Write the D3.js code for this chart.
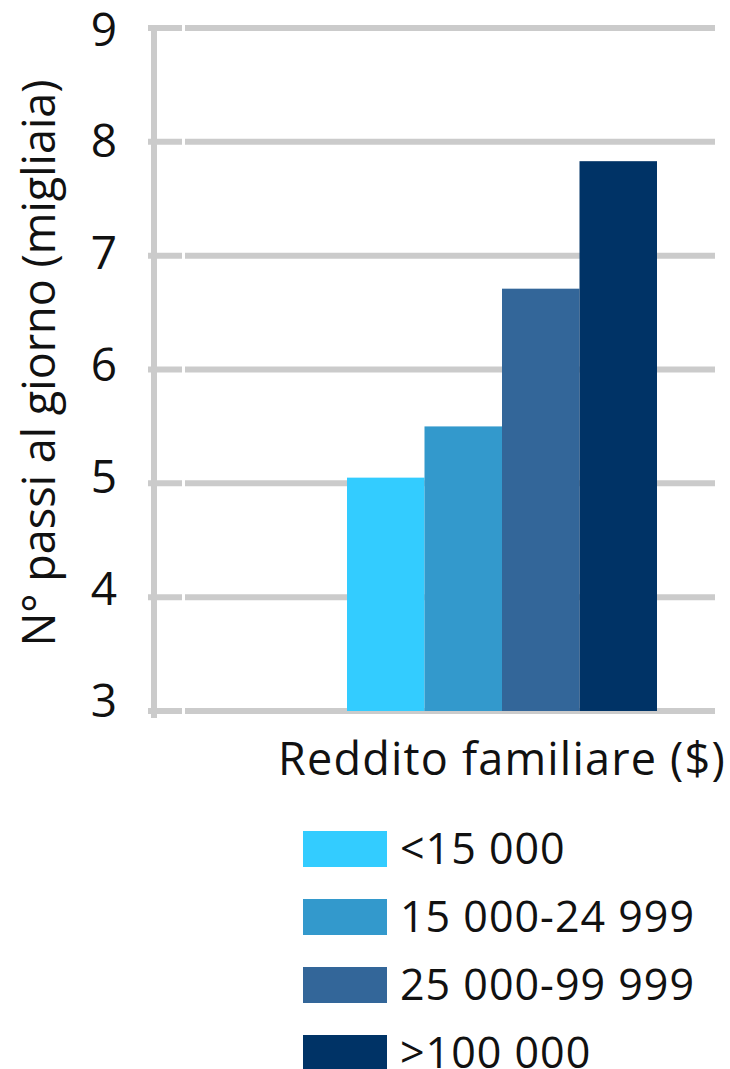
<!DOCTYPE html>
<html>
<head>
<meta charset="utf-8">
<script src="https://cdn.jsdelivr.net/npm/d3@7"></script>
<style>
  body { margin: 0; background: #fff; }
  text { font-family: "Open Sans", sans-serif; fill: #111; }
</style>
</head>
<body>
<div id="graph_window"></div>
<script>
// data
var category = "Reddito familiare ($)";
var seriesNames = ["<15 000", "15 000-24 999", "25 000-99 999", ">100 000"];
var values = [5.05, 5.50, 6.71, 7.83];
var yTicks = [3, 4, 5, 6, 7, 8, 9];
var yTitle = "N° passi al giorno (migliaia)";

var colors = ["#33ccff", "#3399cc", "#336699", "#003366"];

// plot box
var margin = {top: 28, left: 154, right: 15, bottom: 358},
    W = 730, H = 1069,
    width = W - margin.left - margin.right,
    height = H - margin.top - margin.bottom;

var svg = d3.select("#graph_window").append("svg")
    .attr("width", W)
    .attr("height", H);

// scales
var y = d3.scaleLinear()
    .domain([3, 9])
    .range([margin.top + height, margin.top]);

// tick labels in the picture sit slightly tighter than the gridlines
var yLab = d3.scaleLinear()
    .domain([3, 9])
    .range([margin.top + height - 11, margin.top + 1]);

// the bars sit in the right part of the plot
var x = d3.scaleBand()
    .domain(seriesNames)
    .range([347, 657])
    .padding(0);

var color = d3.scaleOrdinal()
    .domain(seriesNames)
    .range(colors);

// gridlines (the picture shows a small break just right of the axis)
var gridSegs = [[margin.left - 6, 182], [185, margin.left + width]];
gridSegs.forEach(function(s) {
  svg.append("g")
    .selectAll("line")
    .data(yTicks)
    .enter().append("line")
      .attr("x1", s[0])
      .attr("x2", s[1])
      .attr("y1", function(d) { return y(d); })
      .attr("y2", function(d) { return y(d); })
      .style("stroke", "#cbcbcb")
      .style("stroke-width", 6);
});

// vertical axis line
svg.append("line")
    .attr("x1", margin.left)
    .attr("x2", margin.left)
    .attr("y1", y(9) - 3)
    .attr("y2", y(3) + 7)
    .style("stroke", "#cbcbcb")
    .style("stroke-width", 6);

// tick labels
svg.append("g")
  .selectAll("text")
  .data(yTicks)
  .enter().append("text")
    .attr("x", 117)
    .attr("y", function(d) { return yLab(d); })
    .attr("dy", "0.36em")
    .style("text-anchor", "end")
    .style("font-size", "46px")
    .text(function(d) { return d; });

// bars
svg.append("g")
  .selectAll("rect")
  .data(values)
  .enter().append("rect")
    .attr("x", function(d, i) { return x(seriesNames[i]); })
    .attr("width", x.bandwidth())
    .attr("y", function(d) { return y(d); })
    .attr("height", function(d) { return y(3) - y(d); })
    .style("fill", function(d, i) { return color(seriesNames[i]); });

// axis titles
svg.append("text")
    .attr("transform", "translate(55,363) rotate(-90)")
    .style("text-anchor", "middle")
    .style("font-size", "45px")
    .text(yTitle);

svg.append("text")
    .attr("x", 726)
    .attr("y", 775)
    .style("text-anchor", "end")
    .style("font-size", "45px")
    .style("letter-spacing", "1.2px")
    .text(category);

// legend
var legend = svg.append("g")
  .selectAll("g")
  .data(seriesNames)
  .enter().append("g")
    .attr("transform", function(d, i) { return "translate(303," + (831 + i * 68) + ")"; });

legend.append("rect")
    .attr("width", 84)
    .attr("height", 36)
    .style("fill", function(d) { return color(d); });

legend.append("text")
    .attr("x", 97)
    .attr("y", 18)
    .attr("dy", "0.36em")
    .style("font-size", "43px")
    .style("letter-spacing", "1px")
    .text(function(d) { return d; });
</script>
</body>
</html>
